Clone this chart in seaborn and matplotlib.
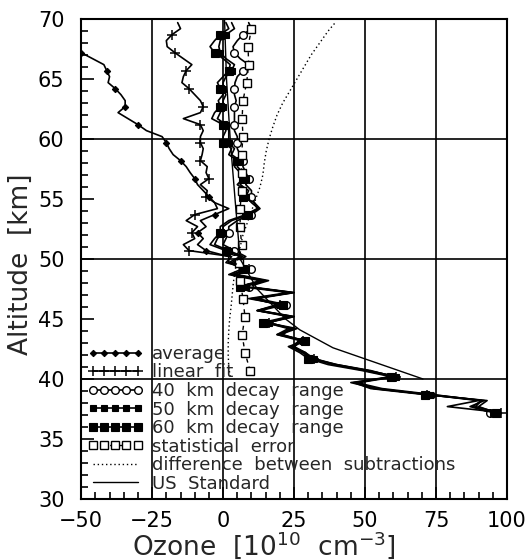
import numpy as np
import matplotlib
matplotlib.use("Agg")
import matplotlib.pyplot as plt
from matplotlib.lines import Line2D
from matplotlib.ticker import MultipleLocator
import seaborn as sns

# ---------------- data ----------------
# common altitude grid for the retrieved profiles [km]
alt = np.round(np.arange(37.2, 69.75, 0.5), 1)

average = [97, 89, 91, 74, 56, 47, 60, 50, 39, 31,
           28, 24, 27, 19, 23, 15, 24, 12, 19, 11,
           24, 8, 15, 4, 8, 2, 2, -6, -9, -7,
           -9, -6, -8, -3, 2, -3, -5, -7, -9, -10,
           -11.6, -13, -15, -17.6, -19, -20, -21.5, -27, -30, -33.5,
           -37, -34.5, -34.5, -36, -38, -40.5, -40, -41, -42, -46,
           -50, -53, -56, -58, -60, -62]

linear_fit = [98, 79, 90, 72, 54, 45, 61, 51, 40, 32,
              29, 25, 28, 20, 24, 16, 25, 12, 20, 10,
              25, 7, 14, 3, 9, 1, 3, -12, -14, -10,
              -11, -9, -13, -10, -2, -3, -6, -5.6, -8, -5,
              -6, -5.6, -8, -7.4, -7, -8, -8, -7, -8, -14,
              -8, -7, -8, -10, -12, -14.5, -14, -13, -11, -14,
              -17, -19.7, -20, -18, -15, -16]

decay40 = [94, 88, 91, 72, 54, 47, 60, 52, 40, 31,
           29, 24, 29, 20, 26, 15, 25, 13, 22, 12,
           25, 9, 16, 5, 10, 4, 8, 4, 0, 1,
           2, 2, 5, 10, 13, 11, 10, 10, 8, 9,
           8, 7, 7, 6, 5, 5, 5, 4, 4, 4,
           4, 4, 4.6, 4, 4, 4.2, 5, 7, 9, 6,
           4, 3.5, 5, 7, 10, 9]

decay50 = [95, 87, 92, 73, 53, 48, 61, 51, 39, 32,
           28, 25, 28, 21, 24, 16, 24, 13, 20, 11,
           24, 8, 14, 4, 8, 3, 7, 2, -3, -2,
           0, 0, 3, 9, 12.5, 10, 8, 9, 6, 8,
           7, 5, 6, 3, 4, 2, 2, 2, 1, -2,
           -1, 0, 0, 1, 0, 0, 1, 3, 4, 1,
           -1, -1.5, -1, 1, 4, 3]

decay60 = [96, 90, 93, 71, 52, 46, 59, 49, 37, 30,
           27, 23, 29, 19, 25, 14, 23, 12, 21, 9,
           23, 6, 13, 2, 7, 2, 6, 1, -4.6, -3,
           -1, -1, 2, 8, 12, 11, 7, 8, 5, 7,
           6, 4, 5, 2, 3, 0, 0, 1, 0, -4,
           -3, -1, -1.7, 0, -1, -2, 0, 2, 2.5, 0,
           -3, -4.6, -3, -1, 2, 1]

alt_err = [40.7, 42.2, 43.7, 45.2, 46.7, 48.2, 49.7, 51.2, 52.7, 54.2,
           55.7, 57.2, 58.7, 60.2, 61.7, 63.2, 64.7, 66.2, 67.7, 69.2]
stat_error = [9.5, 7.7, 6.7, 7.7, 7.0, 6.0, 5.5, 6.5, 6.0, 6.0,
              6.5, 6.5, 6.5, 7.0, 6.7, 7.0, 8.3, 9.0, 8.8, 10.0]

alt_diff = [40.2, 41, 42, 43, 44, 45, 46, 47, 48, 49, 50, 51, 52, 53, 54, 55,
            56, 57, 58, 59, 60, 61, 62, 63, 64, 65, 66, 67, 68, 69, 69.7]
difference = [2.5, 2, 1.8, 1.8, 2, 2.3, 2.8, 3.2, 3.6, 4.2, 5, 6, 7, 8.5, 10, 11.5,
              13, 14, 14.5, 15.2, 16.2, 17.5, 19, 21, 23.5, 26, 28.5, 31, 34, 37, 39.5]

alt_us = [40, 42.6, 44.1, 45, 47.5, 50, 55, 60, 65, 70]
us_standard = [70.4, 38.7, 27, 22, 12, 6, 4.2, 2.5, 1.2, 0.5]

labels = ["average", "linear  fit", "40  km  decay  range", "50  km  decay  range",
          "60  km  decay  range", "statistical  error",
          "difference  between  subtractions", "US  Standard"]

# ---------------- style ----------------
sns.set_theme(style="white")
plt.rcParams["font.family"] = ["DejaVu Sans"]
plt.rcParams["mathtext.default"] = "regular"

fig = plt.figure(figsize=(5.27, 5.6), dpi=100)
ax = fig.add_axes([0.154, 0.109, 0.808, 0.857])


def draw(xv, yv, **kw):
    sns.lineplot(x=xv, y=yv, orient="y", sort=False, estimator=None,
                 ax=ax, color="black", **kw)


styles = [
    dict(lw=1.2, marker="D", ms=3.2, mfc="black", mec="black", mew=0.8, markevery=(0, 3)),
    dict(lw=1.2, marker="+", ms=6.5, mfc="black", mec="black", mew=1.1, markevery=(0, 3)),
    dict(lw=1.2, marker="o", ms=5.5, mfc="white", mec="black", mew=1.0, markevery=(0, 3)),
    dict(lw=1.2, marker="s", ms=4, mfc="black", mec="black", mew=0.8, markevery=(0, 3)),
    dict(lw=1.2, marker="s", ms=6, mfc="black", mec="black", mew=0.8, markevery=(0, 3)),
]
for vals, st in zip([average, linear_fit, decay40, decay50, decay60], styles):
    draw(vals, alt, **st)

err_style = dict(lw=1.0, ls=(0, (3, 3)), marker="s", ms=5.5, mfc="white", mec="black", mew=1.0)
draw(stat_error, alt_err, **err_style)
diff_style = dict(lw=1.0, ls=(0, (1, 2)))
draw(difference, alt_diff, **diff_style)
us_style = dict(lw=1.0, ls="-")
draw(us_standard, alt_us, **us_style)

# grid lines
for gx in [-25, 0, 25, 50, 75]:
    ax.axvline(gx, color="black", lw=1.2, zorder=0.5)
for gy in [40, 50, 60]:
    ax.axhline(gy, color="black", lw=1.2, zorder=0.5)

ax.set_xlim(-50, 100)
ax.set_ylim(30, 70)
ax.xaxis.set_major_locator(MultipleLocator(25))
ax.xaxis.set_minor_locator(MultipleLocator(5))
ax.yaxis.set_major_locator(MultipleLocator(5))
ax.yaxis.set_minor_locator(MultipleLocator(1))
ax.tick_params(which="both", direction="in", colors="black", labelsize=15,
               top=False, right=False, bottom=True, left=True, width=1.2)
ax.tick_params(which="major", length=9)
ax.tick_params(which="minor", length=5)
ax.tick_params(axis="y", which="both", pad=12)
ax.tick_params(axis="x", which="both", pad=9)
for s in ax.spines.values():
    s.set_color("black")
    s.set_linewidth(1.5)
ax.grid(False)

ax.set_xlabel("Ozone  [10$^{10}$  cm$^{-3}$]", fontsize=19)
ax.set_ylabel("Altitude  [km]", fontsize=19)
ax.xaxis.set_label_coords(0.43, -0.064)
ax.yaxis.set_label_coords(-0.112, 0.49)

# legend with proxy handles
all_styles = styles + [err_style, diff_style, us_style]
handles = []
for st in all_styles:
    s = {k: v for k, v in st.items() if k != "markevery"}
    handles.append(Line2D([0, 1], [0, 0], color="black", **s))
ax.legend(handles, labels, loc="upper left", bbox_to_anchor=(0.014, 0.321),
          frameon=False, numpoints=5, handlelength=3.1, handletextpad=0.5,
          labelspacing=0.03, borderaxespad=0, borderpad=0, prop={"size": 13})

fig.savefig("out.png", dpi=100)
